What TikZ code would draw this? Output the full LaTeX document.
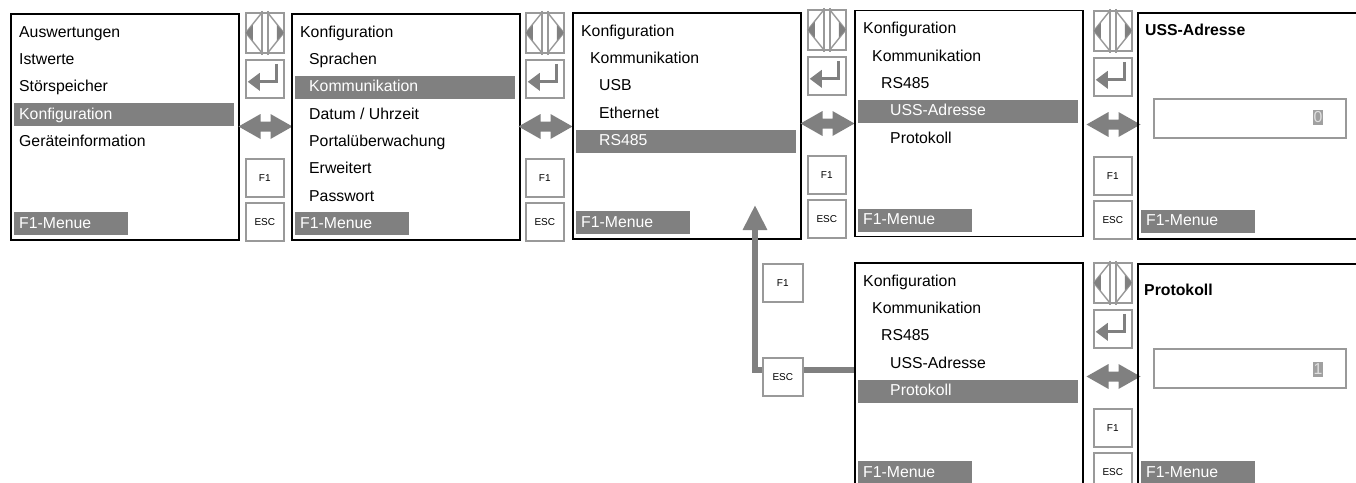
\documentclass[tikz,border=0pt]{standalone}
\usepackage{fontspec}
\setmainfont{Liberation Sans}
\usetikzlibrary{arrows.meta}
\definecolor{bargray}{HTML}{808080}
\definecolor{keygray}{HTML}{999999}
\newcommand{\menufont}{\fontsize{15.8}{18}\selectfont}
\newcommand{\keyfont}{\fontsize{10}{12}\selectfont}
\tikzstyle{screen}=[draw=black, line width=1.8pt, minimum width=228pt, minimum height=226pt, inner sep=0pt, anchor=north west]
\tikzstyle{key}=[draw=keygray, fill=white, line width=1.6pt, minimum width=38pt, minimum height=38pt, inner sep=0pt, anchor=north west, font=\keyfont]
\tikzstyle{entry}=[anchor=base west, inner sep=0pt, font=\menufont]
\tikzstyle{selbar}=[entry, fill=bargray, text=white, text width=220pt, align=left, text height=16pt, text depth=7pt]
\tikzstyle{menubar}=[selbar, text width=114pt]
\tikzstyle{title}=[entry, font=\menufont\bfseries]
\tikzstyle{glyph}=[keygray, line width=1.4pt]
\tikzstyle{valbox}=[draw=keygray, line width=2.4pt, minimum width=192pt, minimum height=39pt, inner sep=0pt, anchor=north west]
\tikzstyle{valsel}=[anchor=base east, inner sep=0.5pt, text height=12pt, text depth=2pt, fill=bargray!75, text=white!88!black, font=\menufont]
\tikzstyle{back}=[bargray, line width=6pt, -{Triangle[width=23pt,length=25pt]}]

% column of keys beside a screen: name, left x, top y
\newcommand{\keycol}[3]{%
  \node[key, minimum height=40pt] (#1lr) at (#2,#3) {};
  \begin{scope}[shift={(#1lr.center)}]
    \draw[glyph] (-3,-22) -- (-3,22) (3,-22) -- (3,22);
    \draw[glyph] (-3,-20) -- (-19,0) -- (-3,20) (3,-20) -- (19,0) -- (3,20);
    \fill[bargray] (-19,0) -- (-12,-8) -- (-12,8) -- cycle;
    \fill[bargray] (19,0) -- (12,-8) -- (12,8) -- cycle;
  \end{scope}
  \node[key] (#1en) at (#2,#3+47) {};
  \begin{scope}[shift={(#1en.center)}]
    \draw[bargray, line width=3pt] (12,-15) -- (12,3) -- (-6,3);
    \fill[bargray] (-17,3) -- (-5,-6) -- (-5,12) -- cycle;
  \end{scope}
  \fill[bargray, shift={(#2+20.5,#3+114.5)}] (-27,0) -- (-5,-12.5) -- (-5,-5) -- (5,-5) -- (5,-12.5)
    -- (27,0) -- (5,12.5) -- (5,5) -- (-5,5) -- (-5,12.5) -- cycle;
  \node[key] (#1fa) at (#2,#3+146) {F1};
  \node[key] (#1esc) at (#2,#3+190) {ESC};
}

\begin{document}
\begin{tikzpicture}[x=1pt, y=-1pt]
	\useasboundingbox (0,0) rectangle (1356,482);
	\clip (0,0) rectangle (1356,482);

	% main menu
	\node[screen] (s1) at (10,13) {};
	\node[entry] (s1a) at (19,37.3) {Auswertungen};
	\node[entry] (s1b) at (19,64.6) {Istwerte};
	\node[entry] (s1c) at (19,91.9) {Störspeicher};
	\node[selbar] (s1d) at (14,119.2) {\hspace*{5pt}Konfiguration};
	\node[entry] (s1e) at (19,146.5) {Geräteinformation};
	\node[menubar] (s1m) at (14,228.4) {\hspace*{5pt}F1-Menue};
	\keycol{k1}{245}{12}

	% Konfiguration
	\node[screen] (s2) at (291,13) {};
	\node[entry] (s2a) at (300,37.3) {Konfiguration};
	\node[entry] (s2b) at (309,64.6) {Sprachen};
	\node[selbar] (s2c) at (295,91.9) {\hspace*{14pt}Kommunikation};
	\node[entry] (s2d) at (309,119.2) {Datum / Uhrzeit};
	\node[entry] (s2e) at (309,146.5) {Portalüberwachung};
	\node[entry] (s2f) at (309,173.8) {Erweitert};
	\node[entry] (s2g) at (309,201.1) {Passwort};
	\node[menubar] (s2m) at (295,228.4) {\hspace*{5pt}F1-Menue};
	\keycol{k2}{525}{12}

	% Kommunikation
	\node[screen] (s3) at (572,12) {};
	\node[entry] (s3a) at (581,36.3) {Konfiguration};
	\node[entry] (s3b) at (590,63.6) {Kommunikation};
	\node[entry] (s3c) at (599,90.9) {USB};
	\node[entry] (s3d) at (599,118.2) {Ethernet};
	\node[selbar] (s3e) at (576,145.5) {\hspace*{23pt}RS485};
	\node[menubar] (s3m) at (576,227.4) {\hspace*{5pt}F1-Menue};
	\keycol{k3}{807}{9}

	% RS485, USS-Adresse selected
	\node[screen] (s4) at (854,9.5) {};
	\node[entry] (s4a) at (863,33.8) {Konfiguration};
	\node[entry] (s4b) at (872,61.1) {Kommunikation};
	\node[entry] (s4c) at (881,88.4) {RS485};
	\node[selbar] (s4d) at (858,115.7) {\hspace*{32pt}USS-Adresse};
	\node[entry] (s4e) at (890,143) {Protokoll};
	\node[menubar] (s4m) at (858,224.9) {\hspace*{5pt}F1-Menue};
	\keycol{k4}{1093}{10}

	% USS-Adresse value
	\node[screen] (s5) at (1137,12) {};
	\node[title] (s5t) at (1145,35) {USS-Adresse};
	\node[valbox] (v5) at (1153,98) {};
	\node[valsel] (d5) at (1323,122.5) {0};
	\node[menubar] (s5m) at (1141,225.5) {\hspace*{5pt}F1-Menue};

	% RS485, Protokoll selected
	\node[screen] (s6) at (854,262) {};
	\node[entry] (s6a) at (863,286.3) {Konfiguration};
	\node[entry] (s6b) at (872,313.6) {Kommunikation};
	\node[entry] (s6c) at (881,340.9) {RS485};
	\node[entry] (s6d) at (890,368.2) {USS-Adresse};
	\node[selbar] (s6e) at (858,395.5) {\hspace*{32pt}Protokoll};
	\node[menubar] (s6m) at (858,477.4) {\hspace*{5pt}F1-Menue};
	\keycol{k5}{1093}{262}

	% Protokoll value
	\node[screen] (s7) at (1137,263) {};
	\node[title] (s7t) at (1144,295.5) {Protokoll};
	\node[valbox] (v7) at (1153,348) {};
	\node[valsel] (d7) at (1323,374.5) {1};
	\node[menubar] (s7m) at (1141,477.4) {\hspace*{5pt}F1-Menue};

	% way back with ESC
	\coordinate (turn) at (755,370);
	\coordinate (up) at (755,205);
	\draw[back] (s6.west |- turn) -- (turn) -- (up);
	\node[key, minimum width=40pt] (bf1) at (762,263) {F1};
	\node[key, minimum width=40pt] (besc) at (762,357) {ESC};
\end{tikzpicture}
\end{document}
